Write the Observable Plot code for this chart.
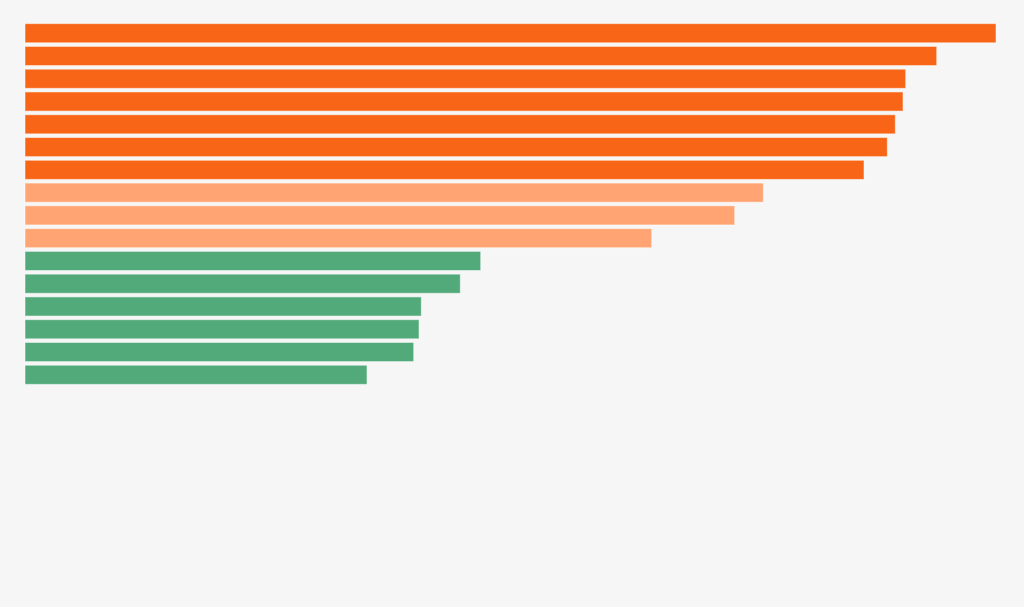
<!DOCTYPE html>
<html>
<head>
<meta charset="utf-8">
<script src="https://cdn.jsdelivr.net/npm/d3@7"></script>
<script src="https://cdn.jsdelivr.net/npm/@observablehq/plot@0.6"></script>
<style>
  html, body { margin: 0; padding: 0; background: #f6f6f6; }
  #chart svg { display: block; background: #f6f6f6; }
</style>
</head>
<body>
<div id="chart"></div>
<script>
const categories = ["A","B","C","D","E","F","G","H","I","J","K","L","M","N","O","P"];
const values = [971, 911.7, 880.7, 878, 870.3, 862.3, 839, 738.3, 709.7, 626.7, 455.7, 435.3, 396.3, 394, 388.7, 342];
const groups = ["high","high","high","high","high","high","high","mid","mid","mid","low","low","low","low","low","low"];
const groupNames = ["high","mid","low"];
const groupColors = ["#f86516","#ffa472","#52a97a"];

const data = categories.map((c, i) => ({category: c, value: values[i], group: groups[i]}));

const chart = Plot.plot({
  width: 1024,
  height: 607,
  marginLeft: 25,
  marginRight: 28,
  marginTop: 20,
  marginBottom: 219,
  style: {background: "#f6f6f6"},
  x: {domain: [0, 971], axis: null},
  y: {domain: categories, axis: null, padding: 0.16, round: false},
  color: {domain: groupNames, range: groupColors},
  marks: [
    Plot.barX(data, {
      x: "value",
      y: "category",
      fill: "group",
      stroke: "#fff",
      strokeOpacity: 0.5,
      strokeWidth: 1
    })
  ]
});
document.getElementById("chart").appendChild(chart);
</script>
</body>
</html>
